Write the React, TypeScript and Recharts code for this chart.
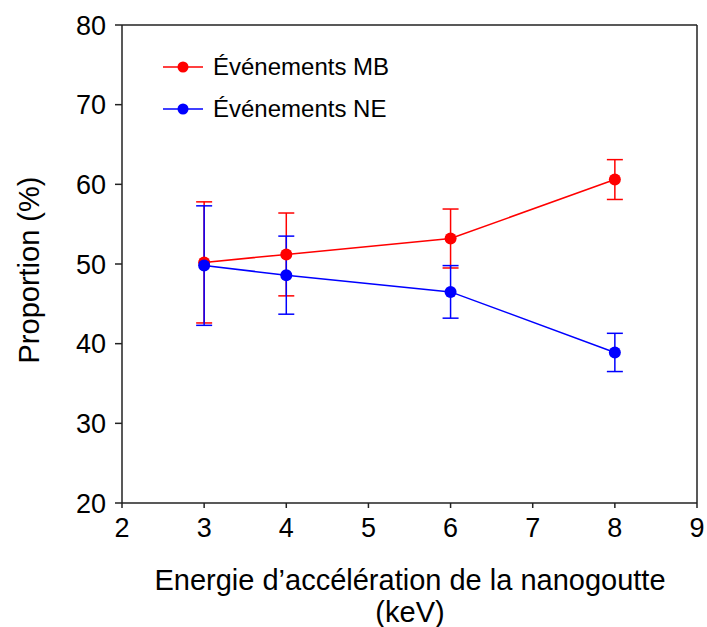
import { ComposedChart, ErrorBar, Label, Line, ReferenceLine, XAxis, YAxis } from "recharts";

const energies = [3, 4, 6, 8];
const mbValues = [50.2, 51.2, 53.2, 60.6];
const mbErrors = [7.6, 5.2, 3.7, 2.5];
const neValues = [49.8, 48.6, 46.5, 38.9];
const neErrors = [7.5, 4.9, 3.3, 2.4];
const xTicks = [2, 3, 4, 5, 6, 7, 8, 9];
const yTicks = [20, 30, 40, 50, 60, 70, 80];

const seriesInfo = [
  { key: "mb", name: "Événements MB", color: "#ff0000" },
  { key: "ne", name: "Événements NE", color: "#0000ff" }
];

const chartData = energies.map((energy, i) => ({
  energy,
  mb: mbValues[i],
  mbErr: mbErrors[i],
  ne: neValues[i],
  neErr: neErrors[i]
}));

const font = "'Liberation Sans', Arial, sans-serif";
const axisColor = "#222";

// legend sits inside the plot, top-left, drawn as an overlay
function LegendBox() {
  return (
    <div style={{ position: "absolute", left: 163, top: 46, fontFamily: font, fontSize: 24, color: "#000" }}>
      {seriesInfo.map((s) => (
        <div key={s.key} style={{ display: "flex", alignItems: "center", height: 42 }}>
          <svg width={50} height={14}>
            <line x1={0} y1={7} x2={40} y2={7} stroke={s.color} strokeWidth={1.5} />
            <circle cx={20} cy={7} r={5.5} fill={s.color} />
          </svg>
          <span>{s.name}</span>
        </div>
      ))}
    </div>
  );
}

export default function App() {
  return (
    <div style={{ position: "absolute", left: 0, top: 0, width: 707, height: 627, background: "#fff" }}>
      <ComposedChart width={707} height={627} data={chartData} margin={{ top: 25, right: 10, bottom: 64, left: 0 }}>
        <XAxis
          dataKey="energy"
          type="number"
          domain={[2, 9]}
          ticks={xTicks}
          height={60}
          stroke={axisColor}
          strokeWidth={1.5}
          tickSize={5}
          tickMargin={10}
          tick={{ fill: "#000", fontSize: 27, fontFamily: font }}
        >
          <Label
            content={() => (
              <g fontFamily={font} fontSize={29} fill="#000">
                <text x={410} y={590} textAnchor="middle">Energie d’accélération de la nanogoutte</text>
                <text x={410} y={622} textAnchor="middle">(keV)</text>
              </g>
            )}
          />
        </XAxis>
        <YAxis
          type="number"
          domain={[20, 80]}
          ticks={yTicks}
          width={122}
          stroke={axisColor}
          strokeWidth={1.5}
          tickSize={7}
          tickMargin={9}
          tick={{ fill: "#000", fontSize: 27, fontFamily: font }}
        >
          <Label
            content={() => (
              <text x={39} y={270} transform="rotate(-90,39,270)" textAnchor="middle" fontFamily={font} fontSize={29} fill="#000">
                Proportion (%)
              </text>
            )}
          />
        </YAxis>
        <ReferenceLine y={80} stroke={axisColor} strokeWidth={1.5} />
        <ReferenceLine x={9} stroke={axisColor} strokeWidth={1.5} />
        <Line
          dataKey="mb"
          name="Événements MB"
          stroke="#ff0000"
          strokeWidth={1.5}
          dot={{ r: 6, fill: "#ff0000", stroke: "#ff0000", strokeWidth: 0 }}
          activeDot={false}
          isAnimationActive={false}
        >
          <ErrorBar dataKey="mbErr" width={8} stroke="#ff0000" strokeWidth={1.5} isAnimationActive={false} />
        </Line>
        <Line
          dataKey="ne"
          name="Événements NE"
          stroke="#0000ff"
          strokeWidth={1.5}
          dot={{ r: 6, fill: "#0000ff", stroke: "#0000ff", strokeWidth: 0 }}
          activeDot={false}
          isAnimationActive={false}
        >
          <ErrorBar dataKey="neErr" width={8} stroke="#0000ff" strokeWidth={1.5} isAnimationActive={false} />
        </Line>
      </ComposedChart>
      <LegendBox />
    </div>
  );
}
